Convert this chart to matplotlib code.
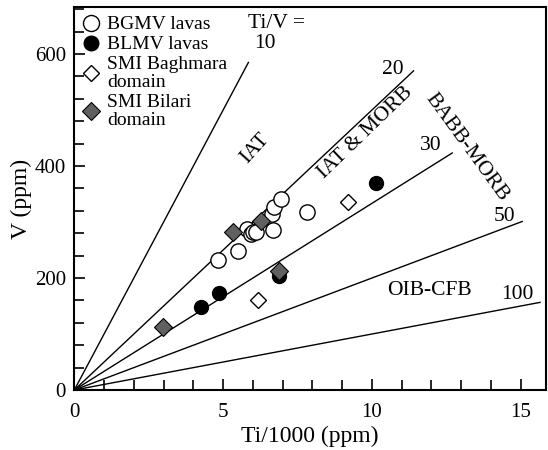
import matplotlib.pyplot as plt
import numpy as np
from matplotlib.ticker import MultipleLocator

plt.rcParams['font.family'] = ['Liberation Serif', 'DejaVu Serif']

# BGMV lavas (open circles)
bgmv_ti = [4.84, 5.49, 5.81, 5.93, 6.01, 6.10, 6.65, 6.67, 6.71, 6.94, 7.81]
bgmv_v = [232, 248, 288, 279, 283, 282, 315, 286, 327, 341, 318]
# BLMV lavas (filled circles)
blmv_ti = [4.25, 4.86, 6.89, 10.13]
blmv_v = [149, 174, 204, 369]
# SMI Baghmara domain (open diamonds)
bagh_ti = [6.18, 9.19]
bagh_v = [161, 335]
# SMI Bilari domain (grey diamonds)
bil_ti = [2.97, 5.32, 6.27, 6.89]
bil_v = [113, 283, 302, 212]

# Ti/V reference lines and where each one stops
ratios = [10, 20, 30, 50, 100]
ends = [5.85, 11.4, 12.7, 15.05, 15.65]

fig = plt.figure(figsize=(5.48, 4.5), dpi=100)
ax = fig.add_axes([0.1356, 0.1333, 0.8602, 0.8511])

for r, e in zip(ratios, ends):
    xs = np.array([0, e])
    ax.plot(xs, xs * 1000 / r, color='black', lw=1.0, zorder=1)

ax.plot(bgmv_ti, bgmv_v, 'o', ms=11, mfc='white', mec='black', mew=1.0,
        ls='none', label='BGMV lavas', zorder=3)
ax.plot(blmv_ti, blmv_v, 'o', ms=10, mfc='black', mec='black',
        ls='none', label='BLMV lavas', zorder=3)
ax.plot(bagh_ti, bagh_v, 'D', ms=8, mfc='white', mec='black', mew=1.0,
        ls='none', label='SMI Baghmara\ndomain', zorder=3)
ax.plot(bil_ti, bil_v, 'D', ms=9, mfc='#606060', mec='black', mew=0.8,
        ls='none', label='SMI Bilari\ndomain', zorder=4)

leg = ax.legend(loc='upper left', frameon=False, fontsize=14, handlelength=0.8,
                handletextpad=0.45, borderaxespad=0.0, labelspacing=0.12,
                borderpad=0.45, markerscale=1.05)
for t in leg.get_texts():
    t.set_linespacing(1.12)

# labels
fs = 15.5
ax.text(6.81, 655, 'Ti/V =', fontsize=fs, ha='center', va='center')
ax.text(6.41, 619, '10', fontsize=fs, ha='center', va='center')
ax.text(10.71, 573, '20', fontsize=fs, ha='center', va='center')
ax.text(11.98, 437, '30', fontsize=fs, ha='center', va='center')
ax.text(14.44, 309, '50', fontsize=fs, ha='center', va='center')
ax.text(14.89, 170, '100', fontsize=fs, ha='center', va='center')
ax.text(6.07, 432, 'IAT', fontsize=fs, ha='center', va='center', rotation=48)
ax.text(9.79, 459, 'IAT & MORB', fontsize=fs, ha='center', va='center', rotation=44)
ax.text(13.2, 434, 'BABB-MORB', fontsize=fs, ha='center', va='center', rotation=-54)
ax.text(11.92, 178, 'OIB-CFB', fontsize=fs, ha='center', va='center')

ax.set_xlim(0, 15.84)
ax.set_ylim(0, 684)
ax.xaxis.set_major_locator(MultipleLocator(5))
ax.xaxis.set_minor_locator(MultipleLocator(1))
ax.yaxis.set_major_locator(MultipleLocator(200))
ax.yaxis.set_minor_locator(MultipleLocator(40))
ax.tick_params(which='both', direction='in', labelsize=15, width=1.2)
ax.tick_params(which='major', length=8, pad=6)
ax.tick_params(axis='x', which='major', pad=9)
ax.tick_params(which='minor', length=7)
for s in ax.spines.values():
    s.set_linewidth(1.5)

ax.set_xlabel('Ti/1000 (ppm)', fontsize=17, labelpad=3)
ax.set_ylabel('V (ppm)', fontsize=17, labelpad=2)

fig.savefig('out.png', dpi=100)
